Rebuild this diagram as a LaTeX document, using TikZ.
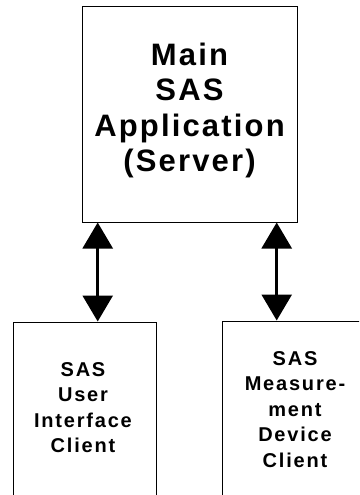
\documentclass[tikz,border=0pt]{standalone}
\usepackage{fontspec}
\setmainfont{Liberation Sans}
\newfontfamily\bigspaced[LetterSpace=7]{Liberation Sans}
\newfontfamily\smallspaced[LetterSpace=9]{Liberation Sans}
\usetikzlibrary{arrows.meta}
\begin{document}
\begin{tikzpicture}[x=1pt,y=1pt,
  box/.style={draw=black,line width=1pt,rectangle,inner sep=0pt},
  bigtext/.style={align=center,inner sep=0pt,font=\bigspaced\bfseries\fontsize{31}{35.5}\selectfont},
  smalltext/.style={align=center,inner sep=0pt,font=\smallspaced\bfseries\fontsize{20}{25.5}\selectfont},
  dbl/.style={line width=2.7pt,{Triangle[length=26pt,width=30pt]}-{Triangle[length=26pt,width=30pt]},shorten <=0pt,shorten >=0pt}]
\useasboundingbox (0,0) rectangle (359,-495);
\clip (0,0) rectangle (359,-495);
\fill[white] (0,0) rectangle (359,-495);
% boxes
\node[box,minimum width=215pt,minimum height=215pt] (main) at (189.5,-114.5) {};
\node[box,minimum width=143pt,minimum height=278pt] (uic) at (84.5,-461) {};
\node[box,minimum width=158pt,minimum height=278pt] (mdc) at (301,-460) {};
% texts
\node[bigtext] (maint) at (189.5,-110.5) {Main\\SAS\\Application\\(Server)};
\node[smalltext] (uict) at (83,-407.5) {SAS\\User\\Interface\\Client};
\node[smalltext] (mdct) at (295,-409.5) {SAS\\Measure-\\ment\\Device\\Client};
% connectors
\coordinate (a1) at (97.7,0);
\coordinate (a2) at (276.7,0);
\draw[dbl] (main.south -| a1) -- (uic.north -| a1);
\draw[dbl] (main.south -| a2) -- (mdc.north -| a2);
\end{tikzpicture}
\end{document}
